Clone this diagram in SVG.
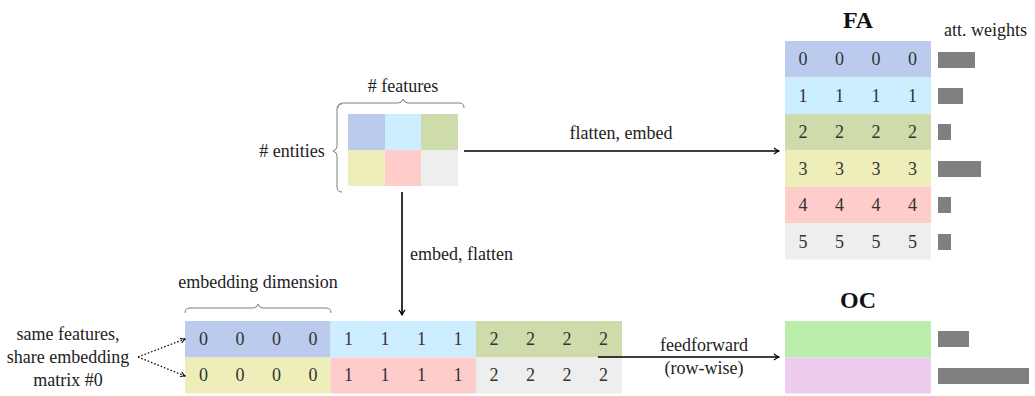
<svg xmlns="http://www.w3.org/2000/svg" width="1035" height="396" viewBox="0 0 1035 396" font-family="'Liberation Serif', 'DejaVu Serif', serif">
<defs>
<style>
text{font-family:'Liberation Serif','DejaVu Serif',serif;font-size:18px;fill:#222;}
.c{text-anchor:middle;}
.d{text-anchor:middle;fill:#333;}
.b{font-weight:bold;font-size:24px;text-anchor:middle;fill:#111;}
.blue{fill:#bbcbee}.cyan{fill:#cdeeff}.green{fill:#cddcaa}.yellow{fill:#eeeebb}.pink{fill:#ffcccc}.gray{fill:#eeeeee}
.bar{fill:#808080}
.brace{fill:none;stroke:#808080;stroke-width:1}
.arr{stroke:#000;stroke-width:1.6;fill:none}
.dot{stroke:#000;stroke-width:1.3;stroke-dasharray:1.5 2;fill:none}
</style>
<marker id="ah" markerWidth="8" markerHeight="8" refX="6" refY="4" orient="auto" markerUnits="userSpaceOnUse">
<path d="M1,1 Q4,3.5 6.5,4 Q4,4.5 1,7" fill="none" stroke="#000" stroke-width="1.2"/>
</marker>
<marker id="ahs" markerWidth="8" markerHeight="8" refX="6" refY="4" orient="auto" markerUnits="userSpaceOnUse">
<path d="M1.5,1.5 Q4,3.5 6.5,4 Q4,4.5 1.5,6.5" fill="none" stroke="#000" stroke-width="1"/>
</marker>
</defs>

<g id="input">
<rect class="blue" x="348" y="114" width="37" height="36"/>
<rect class="cyan" x="385" y="114" width="36" height="36"/>
<rect class="green" x="421" y="114" width="37" height="36"/>
<rect class="yellow" x="348" y="150" width="37" height="36"/>
<rect class="pink" x="385" y="150" width="36" height="36"/>
<rect class="gray" x="421" y="150" width="37" height="36"/>
<path class="brace" d="M338,108 Q338,103 343,103 L398,103 Q402,103 403,99 Q404,103 408,103 L459,103 Q464,103 464,108"/>
<path class="brace" d="M342,104 Q337,104 337,109 L337,146 Q337,150 333,151 Q337,152 337,156 L337,187 Q337,192 342,192"/>
<text class="c" x="403" y="92">#  features</text>
<text class="c" x="292" y="157">#  entities</text>
</g>

<g id="flat">
<rect class="blue" x="185" y="321" width="145.5" height="36.5"/>
<rect class="cyan" x="330.5" y="321" width="145.5" height="36.5"/>
<rect class="green" x="476" y="321" width="146" height="36.5"/>
<rect class="yellow" x="185" y="357.5" width="145.5" height="36"/>
<rect class="pink" x="330.5" y="357.5" width="145.5" height="36"/>
<rect class="gray" x="476" y="357.5" width="146" height="36"/>
<text class="d" x="203.5" y="345">0</text><text class="d" x="240" y="345">0</text><text class="d" x="276.5" y="345">0</text><text class="d" x="313" y="345">0</text>
<text class="d" x="348.5" y="345">1</text><text class="d" x="385" y="345">1</text><text class="d" x="421.5" y="345">1</text><text class="d" x="458" y="345">1</text>
<text class="d" x="494" y="345">2</text><text class="d" x="530.5" y="345">2</text><text class="d" x="567" y="345">2</text><text class="d" x="603.5" y="345">2</text>
<text class="d" x="203.5" y="381">0</text><text class="d" x="240" y="381">0</text><text class="d" x="276.5" y="381">0</text><text class="d" x="313" y="381">0</text>
<text class="d" x="348.5" y="381">1</text><text class="d" x="385" y="381">1</text><text class="d" x="421.5" y="381">1</text><text class="d" x="458" y="381">1</text>
<text class="d" x="494" y="381">2</text><text class="d" x="530.5" y="381">2</text><text class="d" x="567" y="381">2</text><text class="d" x="603.5" y="381">2</text>
<path class="brace" d="M185,313 Q185,308 190,308 L253,308 Q257,308 258,304 Q259,308 263,308 L326,308 Q331,308 331,313"/>
<text class="c" x="258" y="288">embedding dimension</text>
</g>

<g id="note">
<text class="c" x="68" y="340">same features,</text>
<text class="c" x="68" y="363">share embedding</text>
<text class="c" x="68" y="386">matrix #0</text>
</g>

<g id="fa">
<text class="b" x="858" y="28">FA</text>
<text x="944" y="36">att. weights</text>
<rect class="blue" x="785" y="41" width="146" height="36.5"/>
<rect class="cyan" x="785" y="77.5" width="146" height="36.5"/>
<rect class="green" x="785" y="114" width="146" height="36.5"/>
<rect class="yellow" x="785" y="150.5" width="146" height="36.5"/>
<rect class="pink" x="785" y="187" width="146" height="36"/>
<rect class="gray" x="785" y="223" width="146" height="36.5"/>
<text class="d" x="803" y="65">0</text><text class="d" x="839.5" y="65">0</text><text class="d" x="876" y="65">0</text><text class="d" x="912.5" y="65">0</text>
<text class="d" x="803" y="102">1</text><text class="d" x="839.5" y="102">1</text><text class="d" x="876" y="102">1</text><text class="d" x="912.5" y="102">1</text>
<text class="d" x="803" y="138">2</text><text class="d" x="839.5" y="138">2</text><text class="d" x="876" y="138">2</text><text class="d" x="912.5" y="138">2</text>
<text class="d" x="803" y="175">3</text><text class="d" x="839.5" y="175">3</text><text class="d" x="876" y="175">3</text><text class="d" x="912.5" y="175">3</text>
<text class="d" x="803" y="211">4</text><text class="d" x="839.5" y="211">4</text><text class="d" x="876" y="211">4</text><text class="d" x="912.5" y="211">4</text>
<text class="d" x="803" y="248">5</text><text class="d" x="839.5" y="248">5</text><text class="d" x="876" y="248">5</text><text class="d" x="912.5" y="248">5</text>
<rect class="bar" x="938" y="52" width="37" height="16"/>
<rect class="bar" x="938" y="88" width="25" height="16"/>
<rect class="bar" x="938" y="124" width="13" height="16"/>
<rect class="bar" x="938" y="161" width="43" height="16"/>
<rect class="bar" x="938" y="197" width="13" height="16"/>
<rect class="bar" x="938" y="234" width="13" height="16"/>
</g>

<g id="oc">
<text class="b" x="858" y="308">OC</text>
<rect x="785" y="321" width="146" height="36.5" fill="#bbeeaa"/>
<rect x="785" y="357.5" width="146" height="36" fill="#eeccee"/>
<rect class="bar" x="938" y="331" width="31" height="16"/>
<rect class="bar" x="938" y="368" width="91" height="16"/>
</g>

<g id="connectors">
<line class="arr" x1="464" y1="151" x2="779" y2="151" marker-end="url(#ah)"/>
<text class="c" x="621" y="139">flatten, embed</text>
<line class="arr" x1="402" y1="192" x2="402" y2="315" marker-end="url(#ah)"/>
<text x="410" y="260">embed, flatten</text>
<line class="arr" x1="598" y1="357" x2="779" y2="357" marker-end="url(#ah)"/>
<text class="c" x="704" y="351">feedforward</text>
<text class="c" x="704" y="374">(row-wise)</text>
<path class="dot" d="M138,357 L185,339" marker-end="url(#ahs)"/>
<path class="dot" d="M138,357 L185,376" marker-end="url(#ahs)"/>
</g>
</svg>
